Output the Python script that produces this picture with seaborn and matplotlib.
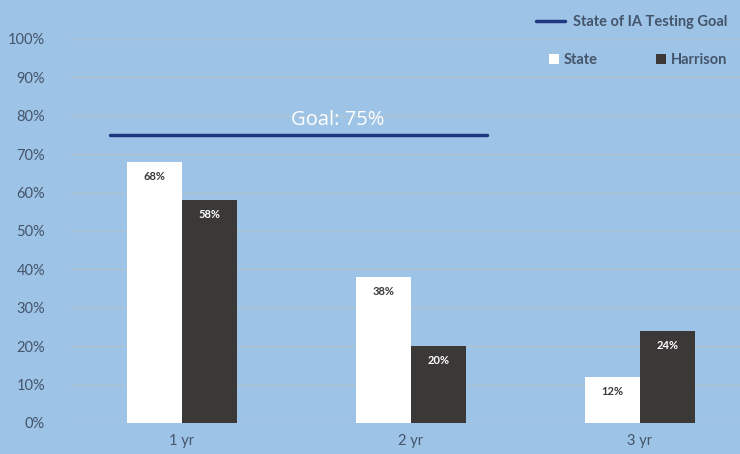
import matplotlib
matplotlib.use("Agg")
import matplotlib.pyplot as plt
import seaborn as sns
import pandas as pd
from matplotlib.lines import Line2D
from matplotlib.patches import Patch

categories = ["1 yr", "2 yr", "3 yr"]
state_vals = [68, 38, 12]
harrison_vals = [58, 20, 24]
series = ["State", "Harrison"]
goal = 75
yticks = [0, 10, 20, 30, 40, 50, 60, 70, 80, 90, 100]

df = pd.DataFrame({
    "cat": categories * 2,
    "val": state_vals + harrison_vals,
    "series": ["State"] * 3 + ["Harrison"] * 3,
})

bg = "#9DC3E6"
dark = "#3B3838"
txt = "#44546A"
navy = "#203880"

sns.set_theme(style="white")
plt.rcParams["font.family"] = ["Lato", "DejaVu Sans"]

fig = plt.figure(figsize=(7.4, 4.54), dpi=100, facecolor=bg)
ax = fig.add_axes([70 / 740, 1 - 423 / 454, 670 / 740, (423 - 39) / 454])
ax.set_facecolor(bg)

sns.barplot(data=df, x="cat", y="val", hue="series", hue_order=series,
            palette={"State": "white", "Harrison": dark}, width=0.48,
            saturation=1, ax=ax, legend=False, zorder=3, linewidth=0)

ax.set_ylim(0, 100)
ax.set_xlim(-0.489, 2.437)
ax.set_yticks(yticks)
ax.set_yticklabels([f"{t}%" for t in yticks], color=txt, fontsize=10.5)
ax.tick_params(axis="x", colors=txt, labelsize=10.5, length=0, pad=8)
ax.tick_params(axis="y", length=0, pad=18)
ax.set_xlabel("")
ax.set_ylabel("")
ax.grid(axis="y", color="#AFC3D3", linewidth=1, zorder=0)
for s in ax.spines.values():
    s.set_visible(False)

for i, cont in enumerate(ax.containers):
    for bar, v in zip(cont, [state_vals, harrison_vals][i]):
        ax.text(bar.get_x() + bar.get_width() / 2, v - 3.8, f"{v}%",
                ha="center", va="center", fontsize=8, fontweight="bold",
                color=(dark if i == 0 else "white"), zorder=5)

ax.plot([-0.314, 1.332], [goal, goal], color=navy, linewidth=2.5, zorder=4)
ax.text(0.68, goal + 4.0, f"Goal: {goal}%", ha="center", va="center",
        color="white", fontsize=14.5, zorder=5,
        family=["Open Sans", "DejaVu Sans"])

leg1 = fig.legend(handles=[Line2D([0], [0], color=navy, lw=2.5)],
                  labels=["State of IA Testing Goal"], loc="center right",
                  bbox_to_anchor=(1.0, 1 - 22 / 454), frameon=False,
                  handlelength=2.0, handletextpad=0.5, labelcolor=txt,
                  prop={"weight": "bold", "size": 10.5})
leg2 = fig.legend(handles=[Patch(facecolor="white", linewidth=0), Patch(facecolor=dark, linewidth=0)],
                  labels=series, loc="center right", ncol=2,
                  bbox_to_anchor=(1.0, 1 - 60 / 454), frameon=False,
                  handlelength=0.7, handleheight=0.7, columnspacing=4,
                  handletextpad=0.3, labelcolor=txt,
                  prop={"weight": "bold", "size": 10.5})

fig.savefig("out.png", dpi=100, facecolor=bg)
